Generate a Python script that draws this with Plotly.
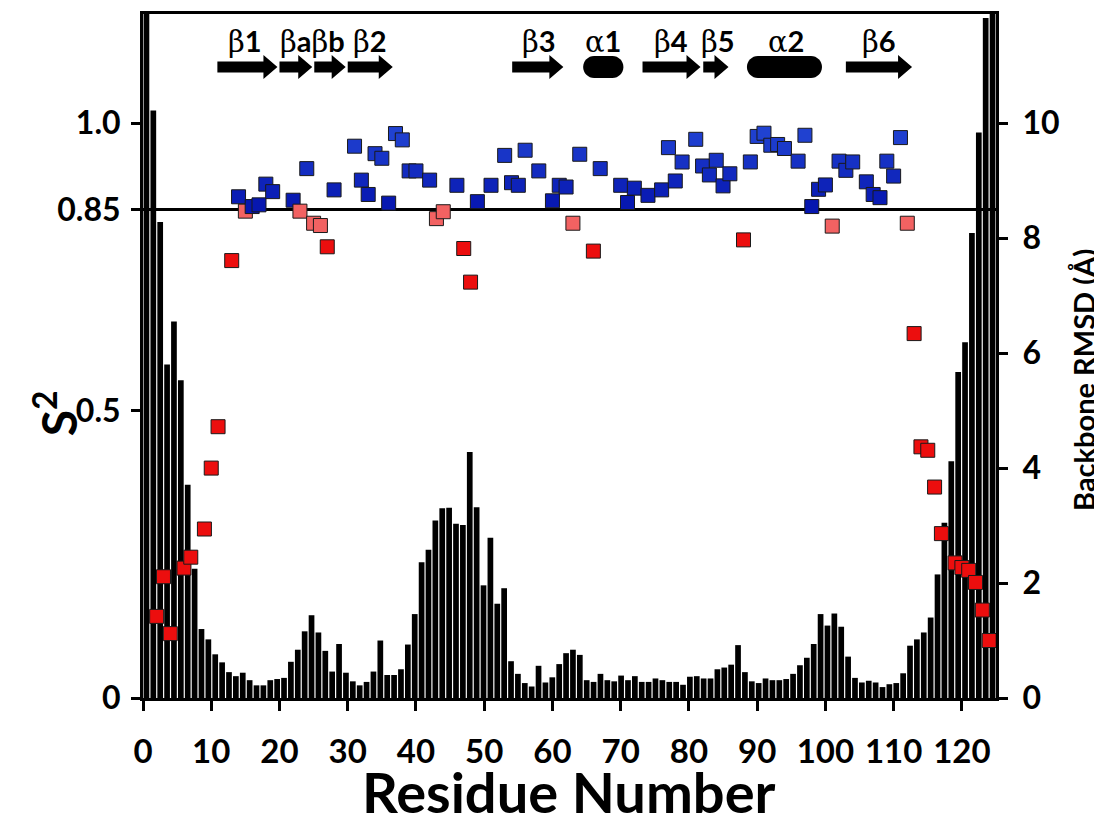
import plotly.graph_objects as go

# ---------------- data ----------------
# Backbone RMSD (Å) per residue 1..124 (bars, right axis)
RMSD_RESIDUES = list(range(1, 125))
RMSD = [11.9, 10.22, 8.28, 5.80, 6.55, 5.53, 3.71, 2.25, 1.20, 1.02,
        0.76, 0.62, 0.45, 0.38, 0.44, 0.31, 0.22, 0.22, 0.31, 0.33,
        0.35, 0.63, 0.84, 1.16, 1.44, 1.14, 0.82, 0.46, 0.94, 0.44,
        0.29, 0.22, 0.28, 0.46, 1.00, 0.40, 0.40, 0.50, 0.93, 1.46,
        2.36, 2.58, 3.09, 3.30, 3.31, 3.03, 3.01, 4.28, 3.32, 1.96,
        2.79, 1.64, 1.91, 0.64, 0.42, 0.26, 0.20, 0.56, 0.27, 0.36,
        0.59, 0.78, 0.84, 0.75, 0.31, 0.28, 0.42, 0.31, 0.29, 0.39,
        0.31, 0.38, 0.28, 0.28, 0.34, 0.31, 0.28, 0.28, 0.23, 0.37,
        0.38, 0.34, 0.34, 0.50, 0.53, 0.58, 0.92, 0.45, 0.29, 0.26,
        0.34, 0.31, 0.31, 0.33, 0.42, 0.57, 0.70, 0.94, 1.46, 1.26,
        1.47, 1.24, 0.72, 0.35, 0.27, 0.30, 0.27, 0.19, 0.24, 0.26,
        0.43, 0.91, 1.02, 1.14, 1.40, 2.15, 3.05, 4.12, 5.67, 6.19,
        8.09, 9.84, 11.83, 11.9]

# Order parameter S2 (squares, left axis)
S2_RESIDUES = [2, 3, 4, 6, 7, 9, 10, 11, 13, 14, 15, 16, 17, 18, 19, 22, 23, 24, 25, 26,
               27, 28, 31, 32, 33, 34, 35, 36, 37, 38, 39, 40, 42, 43, 44, 46, 47, 48, 49, 51,
               53, 54, 55, 56, 58, 60, 61, 62, 63, 64, 66, 67, 70, 71, 72, 74, 76, 77, 78, 79,
               81, 82, 83, 84, 85, 86, 88, 89, 90, 91, 92, 93, 94, 96, 97, 98, 99, 100, 101, 102,
               103, 104, 106, 107, 108, 109, 110, 111, 112, 113, 114, 115, 116, 117, 119, 120, 121, 122, 123, 124]
S2_VALUES = [0.142, 0.211, 0.112, 0.226, 0.245, 0.294, 0.400, 0.472, 0.761, 0.872,
             0.847, 0.855, 0.858, 0.894, 0.881, 0.866, 0.847, 0.921, 0.826, 0.822,
             0.785, 0.884, 0.960, 0.901, 0.876, 0.947, 0.939, 0.861, 0.982, 0.971,
             0.917, 0.917, 0.901, 0.834, 0.846, 0.892, 0.782, 0.7235, 0.8635, 0.892,
             0.944, 0.8965, 0.892, 0.953, 0.917, 0.865, 0.892, 0.889, 0.826, 0.946,
             0.7775, 0.921, 0.892, 0.862, 0.887, 0.8745, 0.884, 0.9575, 0.8995, 0.9325,
             0.972, 0.9256, 0.910, 0.9355, 0.891, 0.912, 0.797, 0.9326, 0.977, 0.9826,
             0.9617, 0.963, 0.956, 0.934, 0.979, 0.855, 0.885, 0.8926, 0.821, 0.934,
             0.918, 0.9326, 0.898, 0.876, 0.8705, 0.934, 0.908, 0.975, 0.826, 0.634,
             0.437, 0.431, 0.367, 0.286, 0.235, 0.227, 0.222, 0.201, 0.153, 0.100]

THRESHOLD = 0.85
LOW_CUT = 0.80

X_TICKS = [0, 10, 20, 30, 40, 50, 60, 70, 80, 90, 100, 110, 120]
S2_TICKS = [0, 0.5, 0.85, 1.0]
S2_TICK_TEXT = ["0", "0.5", "0.85", "1.0"]
RMSD_TICKS = [0, 2, 4, 6, 8, 10]

# secondary structure elements (residue ranges)
SS_START = [10.9, 20.0, 25.1, 30.0, 54.1, 64.5, 73.2, 82.1, 88.5, 103.0]
SS_END = [19.7, 24.8, 29.7, 36.6, 61.6, 70.4, 81.7, 85.8, 99.5, 112.7]
SS_TYPE = ["strand", "strand", "strand", "strand", "strand", "helix",
           "strand", "strand", "helix", "strand"]
SS_LABELS = ["β1", "βaβb", "β2", "β3", "α1", "β4", "β5", "α2", "β6"]
SS_LABEL_X = [15.0, 24.9, 33.2, 58.1, 67.4, 77.3, 84.2, 94.2, 107.8]

X_MAX = 125
S2_MAX = 1.19
RMSD_MAX = 11.9

# ---------------- figure ----------------
PAGE_OFF = 8  # default body margin of the html page
W, H = 1102 - PAGE_OFF, 828 - PAGE_OFF
# plot area in page pixels
PL, PR, PT, PB = 142.7, 996.0, 14.0, 698.0
ML = PL - PAGE_OFF
MT = PT - PAGE_OFF
MR = W - (PR - PAGE_OFF)
MB = H - (PB - PAGE_OFF)
plot_w = PR - PL
plot_h = PB - PT
px_per_x = plot_w / X_MAX


def paper_x(page_px):
    return (page_px - PL) / plot_w


def paper_y(page_py):
    return (PB - page_py) / plot_h


FONT = "Lato"

fig = go.Figure()

n_bars = len(RMSD)
bar_x = [(r - 0.5) * X_MAX / n_bars for r in RMSD_RESIDUES]
fig.add_trace(go.Bar(x=bar_x, y=RMSD, yaxis="y", xaxis="x",
                     marker=dict(color="black", line=dict(width=0)),
                     width=0.83 * X_MAX / n_bars, hoverinfo="skip"))


def hex_to_rgb(h):
    h = h.lstrip("#")
    return tuple(int(h[i:i + 2], 16) for i in (0, 2, 4))


def s2_color(v):
    if v < LOW_CUT:
        return "#EC0E0E"
    if v < THRESHOLD:
        return "#F26262"
    a = hex_to_rgb("#0514AE")
    b = hex_to_rgb("#2448D6")
    t = max(0.0, min(1.0, (v - THRESHOLD) / (1.0 - THRESHOLD)))
    c = tuple(int(round(a[i] + (b[i] - a[i]) * t)) for i in range(3))
    return "rgb(%d,%d,%d)" % c


fig.add_trace(go.Scatter(x=S2_RESIDUES, y=S2_VALUES, yaxis="y2", xaxis="x",
                         mode="markers",
                         marker=dict(symbol="square", size=14,
                                     color=[s2_color(v) for v in S2_VALUES],
                                     line=dict(color="#1a1a1a", width=1)),
                         hoverinfo="skip"))

shapes = []
# threshold line
shapes.append(dict(type="line", xref="paper", x0=0, x1=1, yref="y2",
                   y0=THRESHOLD, y1=THRESHOLD,
                   line=dict(color="black", width=3), layer="below"))

# secondary structure glyphs (paper y, data x)
yc = paper_y(67)
shaft_h = 5.5 / plot_h
head_h = 12 / plot_h
head_len = 14 / px_per_x
oval_h = 11 / plot_h
oval_rx = 11 / px_per_x
k = 0.5523
for x0, x1, t in zip(SS_START, SS_END, SS_TYPE):
    if t == "strand":
        hx = x1 - head_len
        path = ("M {a},{b} L {c},{b} L {c},{d} L {e},{f} L {c},{g} L {c},{h} L {a},{h} Z"
                .format(a=x0, b=yc - shaft_h, c=hx, d=yc - head_h, e=x1, f=yc,
                        g=yc + head_h, h=yc + shaft_h))
    else:
        l = x0 + oval_rx
        r = x1 - oval_rx
        path = ("M {l},{yb} L {r},{yb} "
                "C {r2},{yb} {x1},{yb2} {x1},{yc} "
                "C {x1},{yt2} {r2},{yt} {r},{yt} "
                "L {l},{yt} "
                "C {l2},{yt} {x0},{yt2} {x0},{yc} "
                "C {x0},{yb2} {l2},{yb} {l},{yb} Z").format(
            l=l, r=r, yb=yc - oval_h, yt=yc + oval_h, x0=x0, x1=x1, yc=yc,
            r2=r + k * oval_rx, l2=l - k * oval_rx,
            yb2=yc - k * oval_h, yt2=yc + k * oval_h)
    shapes.append(dict(type="path", xref="x", yref="paper", path=path,
                       fillcolor="black", line=dict(color="black", width=0)))

annotations = []
label_y = paper_y(41)
GREEK = "<span style='font-family:DejaVu Serif;font-weight:normal'>%s</span>"
for lab, lx in zip(SS_LABELS, SS_LABEL_X):
    txt = lab.replace("β", GREEK % "β").replace("α", GREEK % "α")
    annotations.append(dict(x=lx, y=label_y, xref="x", yref="paper", text=txt,
                            showarrow=False, xanchor="center", yanchor="middle",
                            font=dict(family=FONT, size=29, color="black", weight="bold")))

# axis titles
annotations.append(dict(x=paper_x(569), y=paper_y(791), xref="paper", yref="paper",
                        text="Residue Number", showarrow=False,
                        xanchor="center", yanchor="middle",
                        font=dict(family=FONT, size=56, color="black", weight="bold")))
annotations.append(dict(x=paper_x(56), y=paper_y(413), xref="paper", yref="paper",
                        text="S<sup>2</sup>", showarrow=False, textangle=-90,
                        xanchor="center", yanchor="middle",
                        font=dict(family=FONT, size=48, color="black", weight="bold")))
annotations.append(dict(x=paper_x(1083), y=paper_y(380), xref="paper", yref="paper",
                        text="Backbone RMSD (Å)", showarrow=False, textangle=-90,
                        xanchor="center", yanchor="middle",
                        font=dict(family=FONT, size=29, color="black", weight="bold")))

fig.update_layout(
    width=W, height=H,
    margin=dict(l=ML, r=MR, t=MT, b=MB, autoexpand=False),
    plot_bgcolor="white", paper_bgcolor="white",
    showlegend=False, bargap=0.17,
    xaxis=dict(range=[0, X_MAX], tickvals=X_TICKS, ticks="outside", ticklen=10,
               tickwidth=3, tickcolor="black", showline=True, linewidth=3,
               linecolor="black", mirror=True, showgrid=False, zeroline=False,
               tickfont=dict(family=FONT, size=33, color="black", weight="bold"),
               ticklabelstandoff=12),
    yaxis=dict(range=[0, RMSD_MAX], side="right", tickvals=RMSD_TICKS, ticks="outside",
               ticklen=9, tickwidth=3, tickcolor="black", showline=True, linewidth=3,
               linecolor="black", showgrid=False, zeroline=False,
               tickfont=dict(family=FONT, size=32, color="black", weight="bold"),
               ticklabelstandoff=8),
    yaxis2=dict(range=[0, S2_MAX], overlaying="y", side="left", tickvals=S2_TICKS,
                ticktext=S2_TICK_TEXT, ticks="outside", ticklen=9, tickwidth=3,
                tickcolor="black", showline=True, linewidth=3, linecolor="black",
                showgrid=False, zeroline=False,
                tickfont=dict(family=FONT, size=32, color="black", weight="bold"),
                ticklabelstandoff=4),
    shapes=shapes, annotations=annotations,
)

fig.write_html("out.html")
